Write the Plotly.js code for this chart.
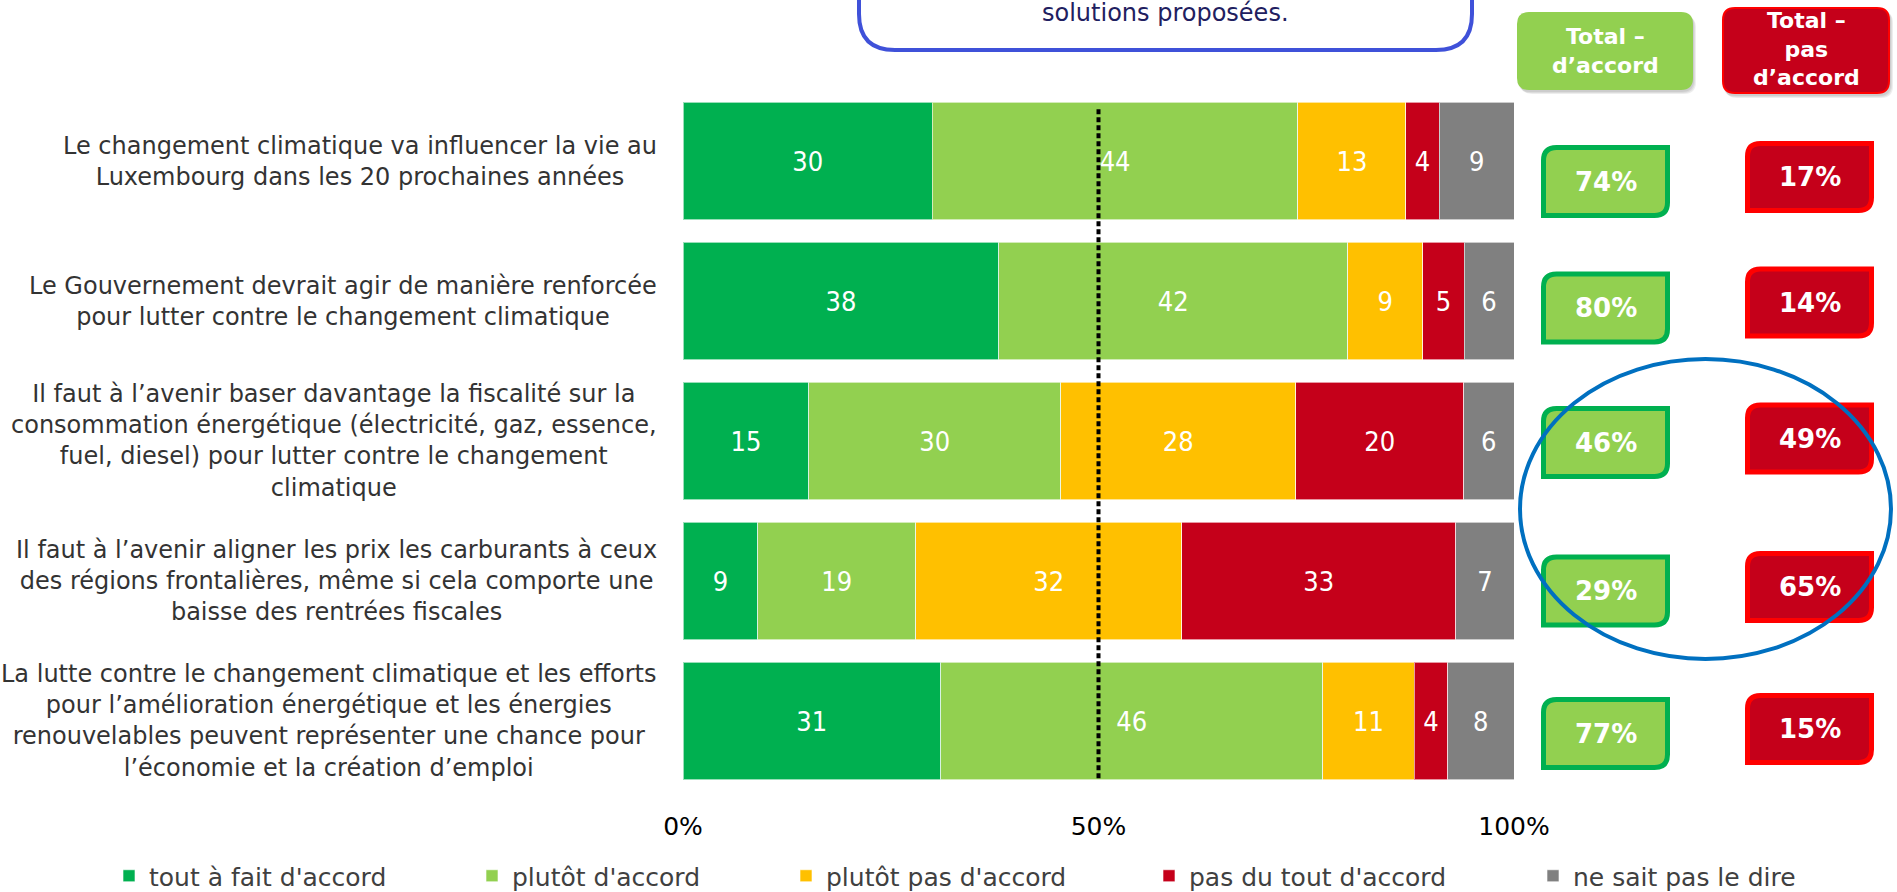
<!DOCTYPE html>
<html>
<head>
<meta charset="utf-8">
<script src="https://cdn.plot.ly/plotly-3.0.1.min.js"></script>
<style>html,body{margin:0;padding:0;background:#fff;}#chart{width:1897px;height:892px;}</style>
</head>
<body>
<div id="chart"></div>
<script>
// ---------------- DATA ----------------
const categories = [
  "Le changement climatique va influencer la vie au<br>Luxembourg dans les 20 prochaines années",
  "Le Gouvernement devrait agir de manière renforcée<br>pour lutter contre le changement climatique",
  "Il faut à l’avenir baser davantage la fiscalité sur la<br>consommation énergétique (électricité, gaz, essence,<br>fuel, diesel) pour lutter contre le changement<br>climatique",
  "Il faut à l’avenir aligner les prix les carburants à ceux<br>des régions frontalières, même si cela comporte une<br>baisse des rentrées fiscales",
  "La lutte contre le changement climatique et les efforts<br>pour l’amélioration énergétique et les énergies<br>renouvelables peuvent représenter une chance pour<br>l’économie et la création d’emploi"
];
const seriesNames = ["tout à fait d'accord", "plutôt d'accord", "plutôt pas d'accord", "pas du tout d'accord", "ne sait pas le dire"];
const toutAFaitAccord = [30, 38, 15, 9, 31];
const plutotAccord    = [44, 42, 30, 19, 46];
const plutotPasAccord = [13, 9, 28, 32, 11];
const pasDuToutAccord = [4, 5, 20, 33, 4];
const neSaitPas       = [9, 6, 6, 7, 8];
const totalAccord     = [74, 80, 46, 29, 77];
const totalPasAccord  = [17, 14, 49, 65, 15];
const xTickValues = [0, 50, 100];
const xTickLabels = ["0%", "50%", "100%"];
const headerAccord = "Total –<br>d’accord";
const headerPasAccord = "Total –<br>pas<br>d’accord";
const topBoxText = "solutions proposées.";

// ---------------- STYLE ----------------
const seriesColors = ["#00B050", "#92D050", "#FFC000", "#C5001A", "#808080"];
const FONT = "DejaVu Sans, sans-serif";
const COND = "DejaVu Sans Condensed, DejaVu Sans, sans-serif";
const BOLD = "DejaVu Sans, sans-serif";
const W = 1897, H = 892;
const M = {l: 683, r: 383, t: 91, b: 101, autoexpand: false};
const PW = W - M.l - M.r, PH = H - M.t - M.b;
const px = x => (x - M.l) / PW;
const py = y => (H - M.b - y) / PH;

function rr(x0, y0, x1, y1, tl, tr, br, bl) {
  const P = (x, y) => px(x).toFixed(5) + "," + py(y).toFixed(5);
  let d = "M" + P(x0 + tl, y0) + " L" + P(x1 - tr, y0);
  if (tr) d += " Q" + P(x1, y0) + " " + P(x1, y0 + tr);
  d += " L" + P(x1, y1 - br);
  if (br) d += " Q" + P(x1, y1) + " " + P(x1 - br, y1);
  d += " L" + P(x0 + bl, y1);
  if (bl) d += " Q" + P(x0, y1) + " " + P(x0, y1 - bl);
  d += " L" + P(x0, y0 + tl);
  if (tl) d += " Q" + P(x0, y0) + " " + P(x0 + tl, y0);
  return d + " Z";
}

const allSeries = [toutAFaitAccord, plutotAccord, plutotPasAccord, pasDuToutAccord, neSaitPas];
const legendIds = ["legend", "legend2", "legend3", "legend4", "legend5"];
const traces = allSeries.map((vals, i) => ({
  type: "bar",
  orientation: "h",
  name: seriesNames[i],
  y: categories,
  x: vals,
  text: vals.map(String),
  textposition: "inside",
  insidetextanchor: "middle",
  textangle: 0,
  constraintext: "none",
  textfont: {family: COND, size: 27, color: "#FFFFFF"},
  marker: {color: seriesColors[i], line: {color: "rgba(255,255,255,0.6)", width: 1}},
  legend: legendIds[i],
  hoverinfo: "name+x"
}));

// legend positions (pixel x where item text starts)
const legendTextStart = [149, 512, 826, 1189, 1573];
const legendCenterY = 876;

const layout = {
  width: W, height: H,
  margin: M,
  paper_bgcolor: "#FFFFFF",
  plot_bgcolor: "#FFFFFF",
  barmode: "stack",
  barnorm: "percent",
  bargap: 0.164,
  showlegend: true,
  xaxis: {
    range: [0, 100],
    tickvals: xTickValues,
    ticktext: xTickLabels,
    showgrid: false, zeroline: false, showline: false,
    ticks: "",
    ticklabelstandoff: 18,
    tickfont: {family: FONT, size: 25, color: "#000000"},
    fixedrange: true
  },
  yaxis: {
    type: "category",
    range: [4.5, -0.5],
    showticklabels: false,
    showgrid: false, zeroline: false, showline: false,
    ticks: "",
    fixedrange: true
  },
  shapes: [],
  annotations: []
};

legendIds.forEach((id, i) => {
  layout[id] = {
    orientation: "h",
    x: px(legendTextStart[i] - 40), xanchor: "left",
    y: py(legendCenterY), yanchor: "middle",
    font: {family: FONT, size: 25, color: "#404040"},
    bgcolor: "rgba(0,0,0,0)",
    borderwidth: 0,
    itemclick: false, itemdoubleclick: false
  };
});

// dotted 50% line
layout.shapes.push({
  type: "line", xref: "x", yref: "y",
  x0: 50, x1: 50, y0: -0.37, y1: 4.41,
  line: {color: "#000000", width: 4, dash: "5px,3px"},
  layer: "above"
});

// top rounded box (partially visible)
layout.shapes.push({
  type: "path", xref: "paper", yref: "paper",
  path: rr(859, -60, 1472, 50, 0, 0, 36, 36),
  line: {color: "#3F51D9", width: 4},
  fillcolor: "rgba(0,0,0,0)"
});
layout.annotations.push({
  xref: "paper", yref: "paper", x: px(1165), y: py(13),
  xanchor: "center", yanchor: "middle", showarrow: false,
  text: topBoxText,
  font: {family: FONT, size: 24, color: "#1F2060"}
});

// header boxes with soft shadows
[[1517, 12, 1693, 90, "#92D050", null], [1722, 7, 1890, 94, "#C5001A", "#FF0000"]].forEach(b => {
  for (let k = 3; k >= 1; k--) {
    layout.shapes.push({
      type: "path", xref: "paper", yref: "paper",
      path: rr(b[0] + k, b[1] + k + 1, b[2] + k, b[3] + k + 1, 12, 12, 12, 12),
      line: {width: 0}, fillcolor: "rgba(0,0,0,0.07)"
    });
  }
  layout.shapes.push({
    type: "path", xref: "paper", yref: "paper",
    path: b[5] ? rr(b[0] + 1, b[1] + 1, b[2] - 1, b[3] - 1, 12, 12, 12, 12) : rr(b[0], b[1], b[2], b[3], 12, 12, 12, 12),
    line: b[5] ? {color: b[5], width: 2} : {width: 0},
    fillcolor: b[4]
  });
});
layout.annotations.push({
  xref: "paper", yref: "paper", x: px(1605), y: py(51),
  xanchor: "center", yanchor: "middle", showarrow: false, align: "center",
  text: "<b>" + headerAccord + "</b>",
  font: {family: BOLD, size: 22, color: "#FFFFFF"}
});
layout.annotations.push({
  xref: "paper", yref: "paper", x: px(1806), y: py(49),
  xanchor: "center", yanchor: "middle", showarrow: false, align: "center",
  text: "<b>" + headerPasAccord + "</b>",
  font: {family: BOLD, size: 22, color: "#FFFFFF"}
});

// per-row total boxes
const greenBoxCY = [181.5, 308, 442.5, 591, 733.5];
const redBoxCY = [177, 302.5, 438.5, 587, 729];
categories.forEach((c, i) => {
  const gy = greenBoxCY[i], ry = redBoxCY[i];
  layout.shapes.push({
    type: "path", xref: "paper", yref: "paper",
    path: rr(1543.5, gy - 34, 1667.5, gy + 34, 13, 0, 13, 0),
    line: {color: "#00B050", width: 5}, fillcolor: "#92D050"
  });
  layout.shapes.push({
    type: "path", xref: "paper", yref: "paper",
    path: rr(1747.5, ry - 33.5, 1871.5, ry + 33.5, 13, 0, 13, 0),
    line: {color: "#FF0000", width: 5}, fillcolor: "#C5001A"
  });
  layout.annotations.push({
    xref: "paper", yref: "paper", x: px(1605.5), y: py(gy),
    xanchor: "center", yanchor: "middle", showarrow: false,
    text: "<b>" + totalAccord[i] + "%</b>",
    font: {family: BOLD, size: 26, color: "#FFFFFF"}
  });
  layout.annotations.push({
    xref: "paper", yref: "paper", x: px(1809.5), y: py(ry),
    xanchor: "center", yanchor: "middle", showarrow: false,
    text: "<b>" + totalPasAccord[i] + "%</b>",
    font: {family: BOLD, size: 26, color: "#FFFFFF"}
  });
  // left category labels
  layout.annotations.push({
    xref: "paper", yref: "y", x: px(659), y: i,
    xanchor: "right", yanchor: "middle", align: "center", showarrow: false,
    text: c,
    font: {family: FONT, size: 24, color: "#333333"}
  });
});

// blue ellipse
layout.shapes.push({
  type: "circle", xref: "paper", yref: "paper",
  x0: px(1520), x1: px(1891), y0: py(359), y1: py(659),
  line: {color: "#0070C0", width: 4}, fillcolor: "rgba(0,0,0,0)"
});

Plotly.newPlot("chart", traces, layout, {displayModeBar: false, staticPlot: true});
</script>
</body>
</html>
